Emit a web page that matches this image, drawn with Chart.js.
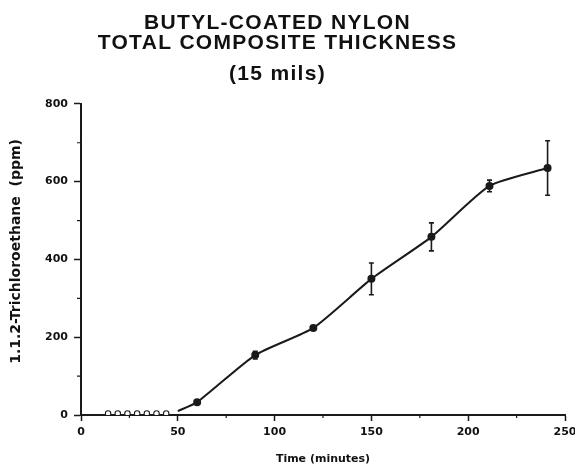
<!DOCTYPE html>
<html>
<head>
<meta charset="utf-8">
<script src="https://cdn.jsdelivr.net/npm/chart.js@4/dist/chart.umd.min.js"></script>
<style>
  html, body { margin: 0; padding: 0; background: #fff; }
  #wrap { width: 575px; height: 466px; }
</style>
</head>
<body>
<div id="wrap"><canvas id="c" width="575" height="466"></canvas></div>
<script>
// ---- data ----
const titleLines = ["BUTYL-COATED NYLON", "TOTAL COMPOSITE THICKNESS"];
const subtitleLine = "(15 mils)";
const xTitle = "Time (minutes)";
const yTitle = "1.1.2-Trichloroethane  (ppm)";

const curveTimes  = [50, 60, 90, 120, 150, 181, 211, 241];
const curveValues = [10, 33, 154, 224, 350, 458, 589, 635];
const curveErrors = [0, 0, 10, 4, 41, 36, 15, 70];
const curveMarker = [0, 1, 1, 1, 1, 1, 1, 1];

const baseTimes  = [14, 19, 24, 29, 34, 39, 44];
const baseValues = [4, 4, 4, 4, 4, 4, 4];

const xMajorTicks = [0, 50, 100, 150, 200, 250];
const yMajorTicks = [0, 200, 400, 600, 800];
const xMinorTicks = [25, 75, 125, 175, 225];
const yMinorTicks = [100, 300, 500, 700];

// ---- chart ----
const ink = '#1a1a1a';

const errorBars = {
  id: 'errorBars',
  afterDatasetsDraw(chart) {
    const {ctx, scales: {x, y}} = chart;
    ctx.save();
    ctx.strokeStyle = ink;
    ctx.lineWidth = 1.6;
    curveTimes.forEach((t, i) => {
      const e = curveErrors[i];
      if (!e) return;
      const px = x.getPixelForValue(t);
      const top = y.getPixelForValue(curveValues[i] + e);
      const bot = y.getPixelForValue(curveValues[i] - e);
      ctx.beginPath();
      ctx.moveTo(px, top); ctx.lineTo(px, bot);
      ctx.moveTo(px - 2.5, top); ctx.lineTo(px + 2.5, top);
      ctx.moveTo(px - 2.5, bot); ctx.lineTo(px + 2.5, bot);
      ctx.stroke();
    });
    ctx.restore();
  }
};

const minorTicks = {
  id: 'minorTicks',
  afterDraw(chart) {
    const {ctx, scales: {x, y}} = chart;
    ctx.save();
    ctx.strokeStyle = ink;
    ctx.lineWidth = 1.2;
    ctx.beginPath();
    xMinorTicks.forEach(v => {
      const px = x.getPixelForValue(v);
      ctx.moveTo(px, x.top); ctx.lineTo(px, x.top + 3);
    });
    yMinorTicks.forEach(v => {
      const py = y.getPixelForValue(v);
      ctx.moveTo(y.right, py); ctx.lineTo(y.right - 4, py);
    });
    ctx.stroke();
    ctx.restore();
  }
};

// widen the heading letters like the typeset original and nudge it left;
// lift the y-axis title slightly
const textTweaks = {
  id: 'textTweaks',
  afterInit(chart) {
    chart.boxes.forEach(b => {
      if (b.options && b.options.text !== undefined && !b.axis) {
        const orig = b.draw.bind(b);
        b.draw = function () {
          const c = this.ctx;
          c.save();
          c.letterSpacing = '1.3px';
          c.translate(-10, 0);
          orig();
          c.restore();
        };
      }
    });
  },
  afterUpdate(chart) {
    const y = chart.scales.y;
    if (y && !y._lifted) {
      const orig = y.drawTitle.bind(y);
      y.drawTitle = function () {
        const c = this.ctx;
        c.save();
        c.translate(0, -8);
        orig();
        c.restore();
      };
      y._lifted = true;
    }
  }
};

new Chart(document.getElementById('c'), {
  type: 'line',
  data: {
    datasets: [
      {
        data: curveTimes.map((t, i) => ({x: t, y: curveValues[i]})),
        borderColor: ink,
        borderWidth: 2,
        tension: 0.2,
        pointRadius: curveMarker.map(m => m ? 3 : 0),
        pointBackgroundColor: ink,
        pointBorderColor: ink,
        fill: false
      },
      {
        data: baseTimes.map((t, i) => ({x: t, y: baseValues[i]})),
        showLine: false,
        pointRadius: 2.7,
        pointBorderWidth: 1.1,
        pointBackgroundColor: '#fff',
        pointBorderColor: ink
      }
    ]
  },
  options: {
    responsive: false,
    animation: false,
    devicePixelRatio: 1,
    layout: { padding: { left: 0, right: 0, top: 0, bottom: 0 } },
    plugins: {
      legend: { display: false },
      tooltip: { enabled: false },
      title: {
        display: true,
        text: titleLines,
        color: '#111',
        font: { family: 'Liberation Sans', size: 21, weight: 'bold', lineHeight: 0.95 },
        padding: { top: 13, bottom: 0 }
      },
      subtitle: {
        display: true,
        text: subtitleLine,
        color: '#111',
        font: { family: 'Liberation Sans', size: 21, weight: 'bold', lineHeight: 0.95 },
        padding: { top: 11, bottom: 20 }
      }
    },
    scales: {
      x: {
        type: 'linear',
        min: 0, max: 250,
        afterFit(s) { s.height = 51; s.paddingRight = 10; },
        afterBuildTicks(s) { s.ticks = xMajorTicks.map(v => ({value: v})); },
        grid: { drawOnChartArea: false, tickLength: 6, tickColor: ink, tickWidth: 1.5 },
        border: { display: true, color: ink, width: 2 },
        ticks: { color: '#111', padding: 5, maxRotation: 0,
                 font: { family: 'DejaVu Sans', size: 11, weight: 'bold' } },
        title: { display: true, text: xTitle, color: '#111',
                 font: { family: 'DejaVu Sans', size: 11, weight: 'bold' },
                 padding: { top: 0, bottom: 0 } }
      },
      y: {
        type: 'linear',
        min: 0, max: 800,
        afterFit(s) { s.width = 81; },
        afterBuildTicks(s) { s.ticks = yMajorTicks.map(v => ({value: v})); },
        grid: { drawOnChartArea: false, tickLength: 7, tickColor: ink, tickWidth: 1.5 },
        border: { display: true, color: ink, width: 2 },
        ticks: { color: '#111', padding: 6,
                 font: { family: 'DejaVu Sans', size: 11, weight: 'bold' } },
        title: { display: true, text: yTitle, color: '#111',
                 font: { family: 'DejaVu Sans', size: 14, weight: 'bold' },
                 padding: { top: 8, bottom: 0 } }
      }
    }
  },
  plugins: [errorBars, minorTicks, textTweaks]
});
</script>
</body>
</html>
